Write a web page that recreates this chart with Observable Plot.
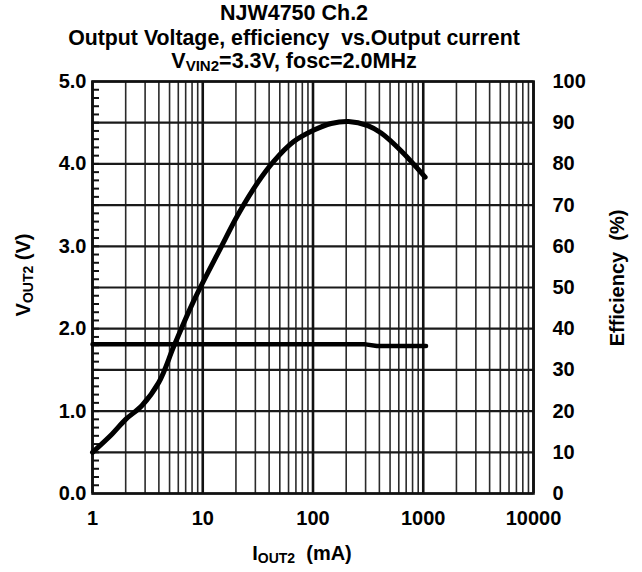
<!DOCTYPE html>
<html>
<head>
<meta charset="utf-8">
<script src="https://cdn.jsdelivr.net/npm/d3@7"></script>
<script src="https://cdn.jsdelivr.net/npm/@observablehq/plot@0.6"></script>
<style>
  html, body { margin: 0; padding: 0; background: #fff; }
  #chart svg { display: block; }
</style>
</head>
<body>
<div id="chart"></div>
<script>
// ---- data ----
const effCurrent = [1, 1.5, 2, 2.8, 4, 5.5, 8.3, 14.6, 20.8, 31.6, 44, 66, 102, 146, 210, 314, 415, 628, 1040];
const efficiency = [10.0, 14.4, 18.0, 21.3, 27.0, 35.9, 46.8, 59.7, 67.6, 75.5, 80.6, 85.3, 88.2, 89.8, 90.3, 89.3, 87.5, 83.2, 76.8];
const voutCurrent = [1, 10, 100, 300, 380, 1060];
const vout = [1.81, 1.81, 1.81, 1.81, 1.79, 1.79];

const xTicks = [1, 10, 100, 1000, 10000];
const vTicks = [0, 1, 2, 3, 4, 5];
const effTicks = [0, 10, 20, 30, 40, 50, 60, 70, 80, 90, 100];
const effPerVolt = 20; // right axis 0..100 % spans left axis 0..5 V

const titleLines = ["NJW4750 Ch.2", "Output Voltage, efficiency  vs.Output current"];

// ---- derived tables ----
const effData = effCurrent.map((c, i) => ({c, v: efficiency[i] / effPerVolt}));
const voutData = voutCurrent.map((c, i) => ({c, v: vout[i]}));
const decades = xTicks;
const minorX = [];
for (let d = 0; d < decades.length - 1; d++) for (let k = 2; k <= 9; k++) minorX.push(decades[d] * k);
const gridV = d3.range(0, 5.0001, 0.5);
const minorV = d3.range(0, 50).map(i => i / 10).filter(v => v > 0);

const font = "'Liberation Sans', Arial, sans-serif";

const svg = Plot.plot({
  width: 642,
  height: 572,
  marginLeft: 92,
  marginRight: 109,
  marginTop: 81,
  marginBottom: 79,
  style: {fontFamily: font, background: "#fff"},
  x: {type: "log", domain: [1, 10000]},
  y: {domain: [0, 5]},
  marks: [
    Plot.ruleX(minorX, {stroke: "#2a2a2a", strokeWidth: 1.6}),
    Plot.ruleY(gridV, {stroke: "#1a1a1a", strokeWidth: 2.2}),
    Plot.ruleX(decades, {stroke: "#111", strokeWidth: 2.6}),
    Plot.ruleY(minorV, {x1: 1, x2: 1, insetRight: -7, stroke: "#111", strokeWidth: 2}),
    Plot.frame({stroke: "#111", strokeWidth: 2.6}),
    Plot.axisY({anchor: "left", ticks: vTicks, tickSize: 0, tickPadding: 6, tickFormat: d3.format(".1f"), fontSize: 20, fontWeight: "bold", label: null}),
    Plot.axisY({anchor: "right", ticks: effTicks.map(e => e / effPerVolt), tickSize: 0, tickPadding: 19, tickFormat: d => String(Math.round(d * effPerVolt)), fontSize: 20, fontWeight: "bold", label: null}),
    Plot.axisX({anchor: "bottom", ticks: xTicks, tickSize: 0, tickPadding: 17, tickFormat: d => String(d), fontSize: 20, fontWeight: "bold", label: null}),
    Plot.line(voutData, {x: "c", y: "v", stroke: "#000", strokeWidth: 4.5}),
    Plot.line(effData, {x: "c", y: "v", stroke: "#000", strokeWidth: 5, curve: "catmull-rom"})
  ]
});

const s = d3.select(svg);
function addText(x, y, parts, opts = {}) {
  const t = s.append("text")
    .attr("x", x).attr("y", y)
    .attr("text-anchor", "middle")
    .attr("font-family", font)
    .attr("font-weight", "bold")
    .attr("font-size", opts.size || 20)
    .attr("fill", "#000");
  if (opts.rotate) t.attr("transform", `rotate(-90 ${x} ${y})`);
  for (const p of parts) {
    const sp = t.append("tspan").text(p.t);
    if (p.sub) sp.attr("font-size", (opts.size || 20) * 0.7).attr("baseline-shift", "-22%");
  }
  return t;
}
addText(294, 20, [{t: titleLines[0]}], {size: 21.5});
addText(294, 45, [{t: titleLines[1]}], {size: 21.3});
addText(294, 68, [{t: "V"}, {t: "VIN2", sub: true}, {t: "=3.3V, fosc=2.0MHz"}], {size: 21.5});
addText(302, 560, [{t: "I"}, {t: "OUT2", sub: true}, {t: "  (mA)"}], {size: 20});
addText(30, 275, [{t: "V"}, {t: "OUT2", sub: true}, {t: " (V)"}], {size: 20, rotate: true});
addText(624, 278, [{t: "Efficiency  (%)"}], {size: 20, rotate: true});
s.selectAll("text").attr("xml:space", "preserve").style("white-space", "pre");

document.getElementById("chart").appendChild(svg);
</script>
</body>
</html>
